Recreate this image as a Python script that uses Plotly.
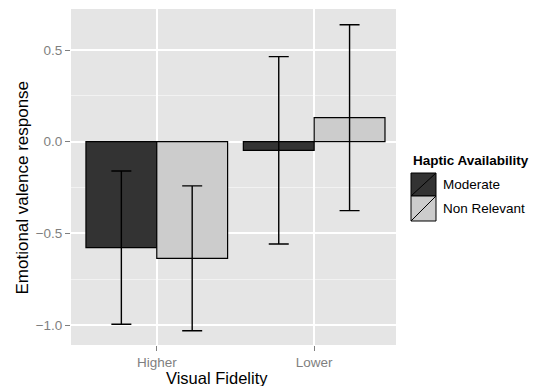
import plotly.graph_objects as go

# Data: mean emotional valence response with error half-widths
fidelity = ["Higher", "Lower"]
groups = ["Moderate", "Non Relevant"]
means = {
    "Moderate": [-0.578, -0.047],
    "Non Relevant": [-0.636, 0.131],
}
errors = {
    "Moderate": [0.418, 0.511],
    "Non Relevant": [0.395, 0.507],
}
fills = {"Moderate": "#333333", "Non Relevant": "#CCCCCC"}

y_ticks = [-1.0, -0.5, 0.0, 0.5]
y_ticktext = ["\u22121.0", "\u22120.5", "0.0", "0.5"]

FONT = "Liberation Sans, Arial, Helvetica, sans-serif"
W, H = 534, 386
L, R, T, B = 71, 138, 9, 41
PW, PH = W - L - R, H - T - B

x_pos = [i + 1 for i in range(len(fidelity))]

fig = go.Figure()
for g in groups:
    fig.add_trace(go.Bar(
        x=x_pos,
        y=means[g],
        name=g,
        marker=dict(color=fills[g], line=dict(color="black", width=1.2)),
        error_y=dict(type="data", array=errors[g], visible=True,
                     color="black", thickness=1.4, width=10),
        showlegend=False,
    ))


def px(x):
    return (x - L) / PW


def py(y):
    return 1 - (y - T) / PH


# Hand-drawn legend (larger keys with a diagonal slash)
shapes = []
annotations = []
key_x0, key_x1 = 411, 436
key_rows = [(173, 196), (196, 221)]
for g, (y0, y1) in zip(groups, key_rows):
    shapes.append(dict(type="rect", xref="paper", yref="paper",
                       x0=px(key_x0), x1=px(key_x1), y0=py(y1), y1=py(y0),
                       fillcolor=fills[g], line=dict(color="black", width=1)))
    shapes.append(dict(type="line", xref="paper", yref="paper",
                       x0=px(key_x0), x1=px(key_x1), y0=py(y1), y1=py(y0),
                       line=dict(color="black", width=1)))
    annotations.append(dict(text=g, xref="paper", yref="paper",
                            x=px(441), y=py((y0 + y1) / 2), xanchor="left",
                            yanchor="middle", showarrow=False,
                            font=dict(family=FONT, size=13.5, color="black")))

annotations.append(dict(text="<b>Haptic Availability</b>", xref="paper", yref="paper",
                        x=px(411), y=py(161), xanchor="left", yanchor="middle",
                        showarrow=False,
                        font=dict(family=FONT, size=13.5, color="black")))

# Axis titles
annotations.append(dict(text="Visual Fidelity", xref="paper", yref="paper",
                        x=px(217), y=py(378), xanchor="center", yanchor="middle",
                        showarrow=False,
                        font=dict(family=FONT, size=16.5, color="black")))
annotations.append(dict(text="Emotional valence response", xref="paper", yref="paper",
                        x=px(21.5), y=py(188), xanchor="center", yanchor="middle",
                        textangle=-90, showarrow=False,
                        font=dict(family=FONT, size=17, color="black")))

fig.update_layout(
    width=W, height=H,
    margin=dict(l=L, r=R, t=T, b=B, pad=0),
    paper_bgcolor="white",
    plot_bgcolor="#E5E5E5",
    barmode="group",
    bargap=0.1,
    bargroupgap=0,
    font=dict(family=FONT),
    shapes=shapes,
    annotations=annotations,
    showlegend=False,
)

fig.update_xaxes(
    range=[0.455, 2.52],
    tickmode="array", tickvals=x_pos, ticktext=fidelity,
    showgrid=True, gridcolor="white", gridwidth=1.5,
    zeroline=False, showline=False,
    ticks="outside", ticklen=5, tickwidth=1, tickcolor="#7F7F7F",
    tickfont=dict(family=FONT, size=13.5, color="#7F7F7F"),
    fixedrange=True,
)
fig.update_yaxes(
    range=[-1.109, 0.724],
    tickmode="array", tickvals=y_ticks, ticktext=y_ticktext,
    showgrid=True, gridcolor="white", gridwidth=1.5,
    minor=dict(tickvals=[-0.75, -0.25, 0.25], showgrid=True,
               gridcolor="#F2F2F2", gridwidth=0.8, ticks=""),
    zeroline=False, showline=False,
    ticks="outside", ticklen=5, tickwidth=1, tickcolor="#7F7F7F",
    tickfont=dict(family=FONT, size=13.5, color="#7F7F7F"),
    fixedrange=True,
)

fig.write_html("out.html")
